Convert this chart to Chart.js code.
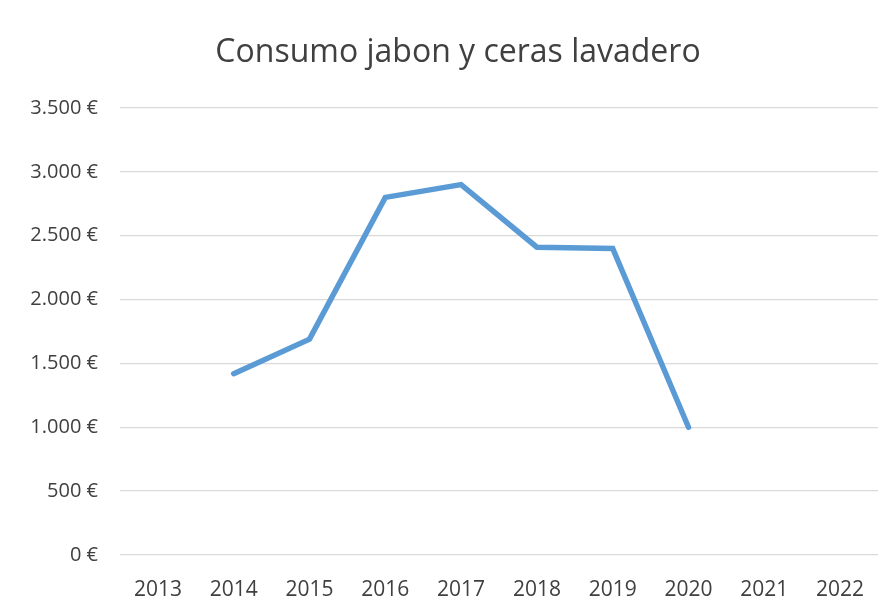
<!DOCTYPE html>
<html>
<head>
<meta charset="utf-8">
<script src="https://cdn.jsdelivr.net/npm/chart.js@4"></script>
<style>
  html, body { margin: 0; padding: 0; background: #fff; }
  #wrap { width: 896px; height: 612px; position: relative; }
</style>
</head>
<body>
<div id="wrap"><canvas id="myChart" width="896" height="612"></canvas></div>
<script>
const years = ['2013', '2014', '2015', '2016', '2017', '2018', '2019', '2020', '2021', '2022']
const consumo = [null, 1420, 1690, 2800, 2900, 2410, 2400, 1000, null, null]
const titulo = 'Consumo jabon y ceras lavadero'

function euros(v) {
    return String(v).replace(/\B(?=(\d{3})+(?!\d))/g, '.') + ' €'
}

// title drawn by hand so it can sit a bit right of centre, like the original
const tituloPlugin = {
    id: 'tituloPlugin',
    afterDraw: function (chart) {
        const c = chart.ctx
        c.save()
        c.font = '32px "Open Sans"'
        c.fillStyle = '#404040'
        c.textAlign = 'center'
        c.textBaseline = 'middle'
        c.fillText(titulo, chart.width / 2 + 10, 53)
        c.restore()
    }
}

var ctx = document.getElementById('myChart').getContext('2d');
var chart = new Chart(ctx, {
    type: 'line',
    data: {
        labels: years,
        datasets: [{
            label: 'Consumo',
            data: consumo,
            borderColor: '#5b9bd5',
            borderWidth: 5.5,
            borderCapStyle: 'round',
            pointRadius: 0,
            tension: 0,
            spanGaps: false
        }]
    },
    plugins: [tituloPlugin],
    options: {
        responsive: false,
        animation: false,
        layout: { padding: { top: 108, right: 18, bottom: 8, left: 0 } },
        plugins: {
            legend: { display: false },
            tooltip: { enabled: false },
            title: { display: false }
        },
        scales: {
            x: {
                offset: true,
                grid: { display: false },
                border: { display: false },
                ticks: {
                    color: '#404040',
                    font: { family: 'Open Sans', size: 21 },
                    maxRotation: 0,
                    padding: 14
                },
                afterFit: function (s) { s.height = 49 }
            },
            y: {
                min: 0,
                max: 3500,
                grid: { color: '#d9d9d9', lineWidth: 1.3, drawTicks: false },
                border: { display: false },
                ticks: {
                    stepSize: 500,
                    color: '#404040',
                    font: { family: 'Open Sans', size: 20 },
                    padding: 22,
                    callback: function (v) { return euros(v) }
                },
                afterFit: function (s) { s.width = 120 }
            }
        }
    }
});
</script>
</body>
</html>
